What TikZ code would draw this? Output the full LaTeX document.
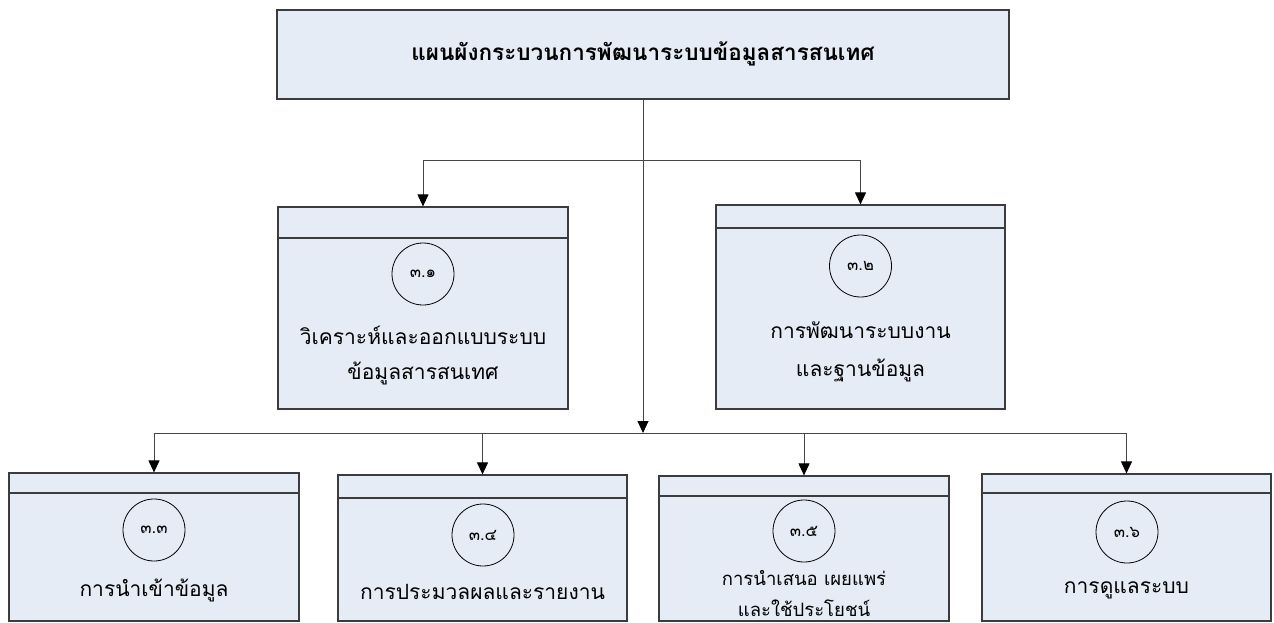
\documentclass[tikz,border=0pt]{standalone}
\usepackage{fontspec}
\newfontfamily\thai[Script=Thai]{Loma}
\usetikzlibrary{arrows.meta}
\definecolor{boxfill}{RGB}{230,236,246}
\definecolor{edgecol}{RGB}{60,60,60}
\definecolor{conncol}{RGB}{70,70,70}
\begin{document}
\begin{tikzpicture}[x=1pt,y=-1pt,font=\thai,
  procbox/.style={draw=edgecol,fill=boxfill,line width=1.2pt,inner sep=0pt,rectangle},
  divider/.style={draw=edgecol,line width=1.2pt},
  numcirc/.style={draw=black,line width=0.8pt,circle,minimum size=62pt,inner sep=0pt,font=\thai\fontsize{16.5}{16.5}\selectfont},
  lbl/.style={inner sep=0pt,font=\thai\fontsize{21}{21}\selectfont},
  lblsmall/.style={inner sep=0pt,font=\thai\fontsize{18.5}{18.5}\selectfont},
  conn/.style={draw=conncol,line width=1pt},
  arr/.style={conn,-{Triangle[length=12pt,width=11pt,color=black]}}]
\useasboundingbox (0,0) rectangle (1274,623);

% boxes
\node[procbox,minimum width=732pt,minimum height=89pt] (top) at (643,54.5) {};
\node[inner sep=0pt,font=\thai\bfseries\fontsize{22.5}{22.5}\selectfont] (title) at (643,54) {แผนผังกระบวนการพัฒนาระบบข้อมูลสารสนเทศ};

\node[procbox,minimum width=290pt,minimum height=202pt] (b31) at (423,308) {};
\node[procbox,minimum width=289pt,minimum height=204pt] (b32) at (860.5,307) {};
\node[procbox,minimum width=290pt,minimum height=148pt] (b33) at (154,547) {};
\node[procbox,minimum width=289pt,minimum height=146pt] (b34) at (482.5,548) {};
\node[procbox,minimum width=290pt,minimum height=145pt] (b35) at (804,548.5) {};
\node[procbox,minimum width=289pt,minimum height=147pt] (b36) at (1126.5,547.5) {};

% dividers
\draw[divider] (b31.west |- 0,238) -- (b31.east |- 0,238);
\draw[divider] (b32.west |- 0,228) -- (b32.east |- 0,228);
\draw[divider] (b33.west |- 0,493) -- (b33.east |- 0,493);
\draw[divider] (b34.west |- 0,498) -- (b34.east |- 0,498);
\draw[divider] (b35.west |- 0,496) -- (b35.east |- 0,496);
\draw[divider] (b36.west |- 0,493) -- (b36.east |- 0,493);

% number circles
\node[numcirc] (c31) at (423,274) {๓.๑};
\node[numcirc] (c32) at (860.5,266) {๓.๒};
\node[numcirc] (c33) at (154,530) {๓.๓};
\node[numcirc] (c34) at (483,535) {๓.๔};
\node[numcirc] (c35) at (804,531) {๓.๕};
\node[numcirc] (c36) at (1127,532) {๓.๖};

% labels
\node[lbl] (t31a) at (423,335) {วิเคราะห์และออกแบบระบบ};
\node[lbl] (t31b) at (423,373) {ข้อมูลสารสนเทศ};
\node[lbl] (t32a) at (860.5,330) {การพัฒนาระบบงาน};
\node[lbl] (t32b) at (860.5,370) {และฐานข้อมูล};
\node[lbl] (t33) at (154,590) {การนำเข้าข้อมูล};
\node[lbl] (t34) at (482.5,592) {การประมวลผลและรายงาน};
\node[lblsmall] (t35a) at (804,578) {การนำเสนอ เผยแพร่};
\node[lblsmall] (t35b) at (804,608) {และใช้ประโยชน์};
\node[lbl] (t36) at (1126.5,590) {การดูแลระบบ};

% connectors
\coordinate (hubtop) at (643,160);
\coordinate (hubbot) at (643,433);
\draw[arr] (top.south) -- (hubbot);
\draw[arr] (hubtop) -| (b31.north);
\draw[arr] (hubtop) -| (b32.north);
\draw[arr] (hubbot) -| (b33.north);
\draw[arr] (hubbot) -| (b34.north);
\draw[arr] (hubbot) -| (b35.north);
\draw[arr] (hubbot) -| (b36.north);
\end{tikzpicture}
\end{document}
